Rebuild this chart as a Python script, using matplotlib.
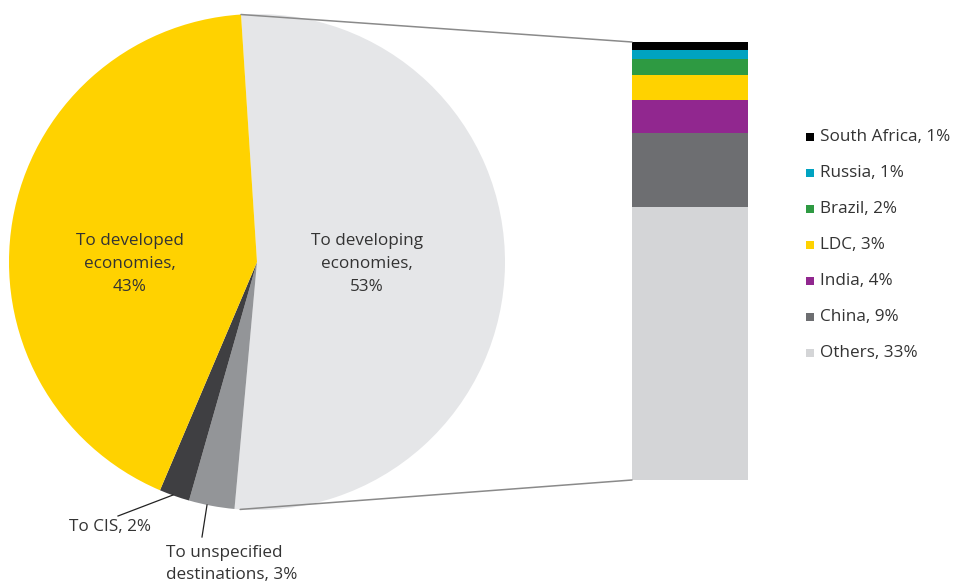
import matplotlib
matplotlib.use("Agg")
import matplotlib.pyplot as plt
import numpy as np
from matplotlib.patches import ConnectionPatch

plt.rcParams['font.family'] = ['Open Sans', 'DejaVu Sans']

# ---- data ----
pie_labels = ["To developing\neconomies,\n53%", "To unspecified\ndestinations, 3%",
              "To CIS, 2%", "To developed\neconomies,\n43%"]
pie_values = [53, 3, 2, 43]
pie_colors = ["#E5E6E8", "#939598", "#3F3F42", "#FFD200"]

bar_labels = ["South Africa, 1%", "Russia, 1%", "Brazil, 2%", "LDC, 3%",
              "India, 4%", "China, 9%", "Others, 33%"]
bar_values = [1, 1, 2, 3, 4, 9, 33]
bar_colors = ["#000000", "#00A3C1", "#2E9A42", "#FFD200", "#91278F", "#6D6E71", "#D4D5D7"]

TXT = "#333333"
FS = 12.3
LS = 1.57
W, H = 955, 588
fig = plt.figure(figsize=(W / 100, H / 100), dpi=100)

# pixel-space axes (y up)
ax = fig.add_axes([0, 0, 1, 1])
cx, cy, r = 257, H - 262, 248
start = 93.7
wedges, _ = ax.pie(pie_values, colors=pie_colors, startangle=start, counterclock=False,
                   center=(cx, cy), radius=r, frame=True,
                   wedgeprops=dict(linewidth=0))
ax.set_xlim(0, W)
ax.set_ylim(0, H)
ax.axis("off")

# inside labels
ax.text(367, H - 264, pie_labels[0], ha="center", va="center", fontsize=FS, color=TXT,
        linespacing=LS)
ax.text(130, H - 264, pie_labels[3], ha="center", va="center", fontsize=FS, color=TXT,
        linespacing=LS)
# outside labels with leaders
ax.plot([173, 118], [H - 495, H - 516], color="#222222", lw=0.9)
ax.text(69, H - 527, pie_labels[2], ha="left", va="center", fontsize=FS, color=TXT)
ax.plot([207, 202], [H - 505, H - 537], color="#222222", lw=0.9)
ax.text(166, H - 564, pie_labels[1], ha="left", va="center", fontsize=FS, color=TXT,
        linespacing=LS)

# stacked bar
bx = fig.add_axes([632 / W, 1 - 480 / H, 116 / W, 438 / H])
bottom = 0
for v, c in zip(bar_values[::-1], bar_colors[::-1]):
    bx.bar(0, v, bottom=bottom, width=1, color=c, linewidth=0)
    bottom += v
bx.set_xlim(-0.5, 0.5)
bx.set_ylim(0, sum(bar_values))
bx.axis("off")

# connection lines
a_top = np.deg2rad(start)
a_bot = np.deg2rad(-93.9)
p_top = (cx + r * np.cos(a_top), cy + r * np.sin(a_top))
p_bot = (cx + r * np.cos(a_bot), cy + r * np.sin(a_bot))
for p, yb in [(p_top, sum(bar_values)), (p_bot, 0)]:
    con = ConnectionPatch(xyA=p, coordsA=ax.transData, xyB=(-0.5, yb), coordsB=bx.transData,
                          color="#8A8A8A", lw=1.1)
    fig.add_artist(con)

# legend
for i, (lab, c) in enumerate(zip(bar_labels, bar_colors)):
    y = H - (137 + 36 * i)
    ax.scatter([810], [y], marker="s", s=38, color=c, linewidths=0)
    ax.text(820, y, lab, ha="left", va="center", fontsize=FS, color=TXT)

fig.savefig("out.png", dpi=100)
